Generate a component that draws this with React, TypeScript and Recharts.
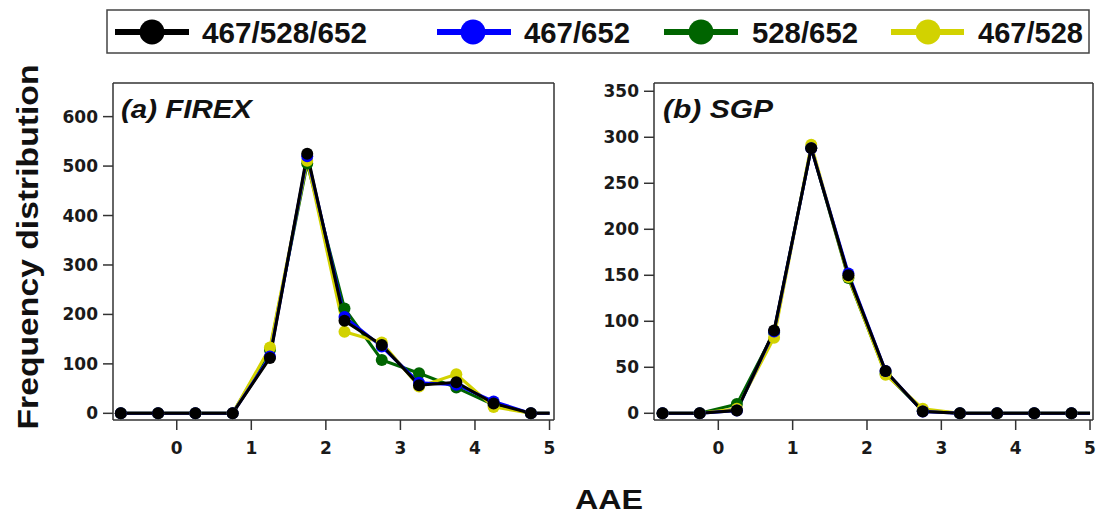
import React from "react";
import { LineChart, Line, XAxis, YAxis } from "recharts";

// AAE bin centres (last point closes the trace at the axis edge)
const aaeBins = [-0.75, -0.25, 0.25, 0.75, 1.25, 1.75, 2.25, 2.75, 3.25, 3.75, 4.25, 4.75, 5.0];
const xTicks = [0, 1, 2, 3, 4, 5];

// (a) FIREX
const firexAll = [0, 0, 0, 0, 112, 525, 187, 138, 57, 63, 20, 0, 0];
const firex467652 = [0, 0, 0, 0, 115, 520, 195, 135, 62, 58, 24, 0, 0];
const firex528652 = [0, 0, 0, 0, 128, 505, 212, 108, 81, 52, 17, 0, 0];
const firex467528 = [0, 0, 0, 0, 133, 511, 165, 143, 54, 79, 13, 0, 0];
const firexTicks = [0, 100, 200, 300, 400, 500, 600];

// (b) SGP
const sgpAll = [0, 0, 3, 90, 288, 150, 46, 2, 0, 0, 0, 0, 0];
const sgp467652 = [0, 0, 3, 89, 288, 152, 46, 2, 0, 0, 0, 0, 0];
const sgp528652 = [0, 0, 10, 88, 289, 147, 43, 3, 0, 0, 0, 0, 0];
const sgp467528 = [0, 0, 5, 82, 292, 148, 42, 5, 0, 0, 0, 0, 0];
const sgpTicks = [0, 50, 100, 150, 200, 250, 300, 350];

const seriesNames = ["467/528/652", "467/652", "528/652", "467/528"];
const seriesColors = ["#000000", "#0000ff", "#006400", "#d2d200"];
const seriesKeys = ["all", "b", "g", "y"];

const AXIS = "#333333";
const tickFont = {
  fontFamily: "DejaVu Sans",
  fontWeight: 700,
  fontSize: 17,
  fill: "#1a1a1a",
};

const buildRows = (all: number[], b: number[], g: number[], y: number[]) =>
  aaeBins.map((aae, i) => ({ aae, all: all[i], b: b[i], g: g[i], y: y[i] }));

const firexRows = buildRows(firexAll, firex467652, firex528652, firex467528);
const sgpRows = buildRows(sgpAll, sgp467652, sgp528652, sgp467528);

const makeDot = (color: string) => (props: any) => {
  const { cx, cy, payload, index } = props;
  if (payload.aae > 4.9) return <g key={`d${index}`} />;
  return <circle key={`d${index}`} cx={cx} cy={cy} r={6} fill={color} />;
};

interface PanelProps {
  rows: typeof firexRows;
  xDomain: [number, number];
  yDomain: [number, number];
  yTicks: number[];
  yWidth: number;
  rightTicks: boolean;
  width: number;
  marginRight: number;
}

function Panel({ rows, xDomain, yDomain, yTicks, yWidth, rightTicks, width, marginRight }: PanelProps) {
  // draw order: green, yellow, blue, black on top
  const order = [2, 3, 1, 0];
  return (
    <LineChart
      width={width}
      height={516}
      data={rows}
      margin={{ top: 73, right: marginRight, bottom: 56, left: 0 }}
    >
      <XAxis
        xAxisId="b"
        dataKey="aae"
        type="number"
        domain={xDomain}
        allowDataOverflow
        ticks={xTicks}
        tickSize={10}
        tickMargin={12}
        height={40}
        stroke={AXIS}
        strokeWidth={1.5}
        tick={tickFont}
        interval={0}
      />
      <XAxis
        xAxisId="t"
        orientation="top"
        dataKey="aae"
        type="number"
        domain={xDomain}
        allowDataOverflow
        ticks={xTicks}
        tickSize={10}
        height={10}
        stroke={AXIS}
        strokeWidth={1.5}
        tick={false}
        interval={0}
      />
      <YAxis
        yAxisId="l"
        type="number"
        domain={yDomain}
        allowDataOverflow
        ticks={yTicks}
        tickSize={10}
        tickMargin={5}
        width={yWidth}
        stroke={AXIS}
        strokeWidth={1.5}
        tick={tickFont}
        interval={0}
      />
      <YAxis
        yAxisId="r"
        orientation="right"
        type="number"
        domain={yDomain}
        allowDataOverflow
        ticks={yTicks}
        tickSize={rightTicks ? 10 : 0}
        tickLine={rightTicks}
        width={rightTicks ? 12 : 1}
        stroke={AXIS}
        strokeWidth={1.5}
        tick={false}
        interval={0}
      />
      {order.map((i) => (
        <Line
          key={seriesKeys[i]}
          xAxisId="b"
          yAxisId="l"
          dataKey={seriesKeys[i]}
          name={seriesNames[i]}
          type="linear"
          stroke={seriesColors[i]}
          strokeWidth={3}
          dot={makeDot(seriesColors[i])}
          activeDot={false}
          isAnimationActive={false}
        />
      ))}
    </LineChart>
  );
}

// legend layout: [line start, marker x, line end, text x, text length]
const legendSlots = [
  [115, 152, 189, 202, 165],
  [437, 473, 511, 524, 106],
  [664, 701, 738, 752, 106],
  [891, 928, 964, 978, 105],
];

export default function App() {
  return (
    <div
      style={{
        position: "absolute",
        left: 0,
        top: 0,
        width: 1097,
        height: 516,
        background: "#ffffff",
        overflow: "hidden",
      }}
    >
      <div style={{ position: "absolute", left: 0, top: 0 }}>
        <Panel
          rows={firexRows}
          xDomain={[-0.855, 5.06]}
          yDomain={[-13.5, 668]}
          yTicks={firexTicks}
          yWidth={113}
          rightTicks={true}
          width={600}
          marginRight={34}
        />
      </div>
      <div style={{ position: "absolute", left: 600, top: 0 }}>
        <Panel
          rows={sgpRows}
          xDomain={[-0.865, 5.04]}
          yDomain={[-7.3, 359]}
          yTicks={sgpTicks}
          yWidth={54}
          rightTicks={false}
          width={497}
          marginRight={3}
        />
      </div>
      <svg
        width={1097}
        height={516}
        style={{ position: "absolute", left: 0, top: 0, pointerEvents: "none" }}
      >
        <rect x={107} y={10} width={982} height={43} fill="#ffffff" stroke="#444" strokeWidth={1.5} />
        {legendSlots.map(([x0, xm, x1, tx, tl], i) => (
          <g key={seriesNames[i]}>
            <line x1={x0} x2={x1} y1={32} y2={32} stroke={seriesColors[i]} strokeWidth={6} />
            <circle cx={xm} cy={32} r={12.5} fill={seriesColors[i]} />
            <text
              x={tx}
              y={43}
              fontFamily="Liberation Sans, Arial, sans-serif"
              fontWeight={700}
              fontSize={29}
              fill="#111"
              textLength={tl}
              lengthAdjust="spacingAndGlyphs"
            >
              {seriesNames[i]}
            </text>
          </g>
        ))}
        <text
          x={121}
          y={118}
          fontFamily="Liberation Sans, Arial, sans-serif"
          fontWeight={700}
          fontStyle="italic"
          fontSize={26}
          fill="#111"
          textLength={131}
          lengthAdjust="spacingAndGlyphs"
        >
          (a) FIREX
        </text>
        <text
          x={663}
          y={118}
          fontFamily="Liberation Sans, Arial, sans-serif"
          fontWeight={700}
          fontStyle="italic"
          fontSize={26}
          fill="#111"
          textLength={110}
          lengthAdjust="spacingAndGlyphs"
        >
          (b) SGP
        </text>
        <text
          transform="translate(38 247) rotate(-90)"
          textAnchor="middle"
          fontFamily="Liberation Sans, Arial, sans-serif"
          fontWeight={700}
          fontSize={30}
          fill="#111"
          textLength={365}
          lengthAdjust="spacingAndGlyphs"
        >
          Frequency distribution
        </text>
        <text
          x={609}
          y={509}
          textAnchor="middle"
          fontFamily="Liberation Sans, Arial, sans-serif"
          fontWeight={700}
          fontSize={28}
          fill="#111"
          textLength={68}
          lengthAdjust="spacingAndGlyphs"
        >
          AAE
        </text>
      </svg>
    </div>
  );
}
